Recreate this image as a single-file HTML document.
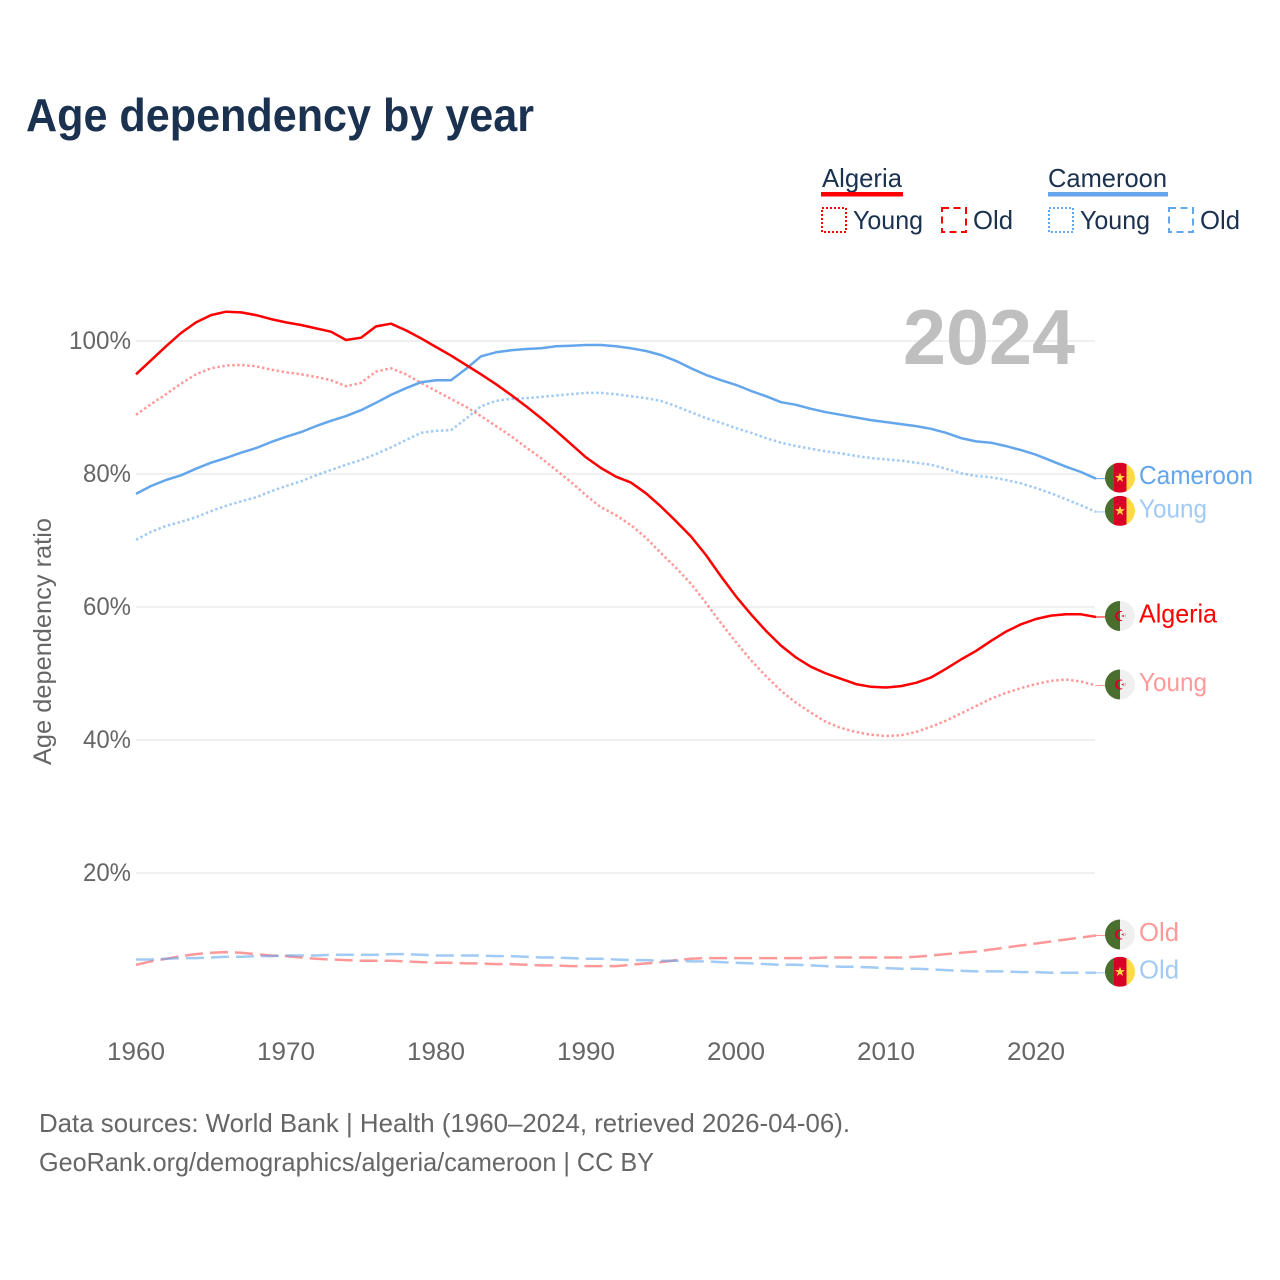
<!DOCTYPE html>
<html lang="en">
<head>
<meta charset="utf-8">
<title>Age dependency by year</title>
<style>
html,body{margin:0;padding:0;background:#fff;width:1280px;height:1280px;overflow:hidden}
svg{display:block}
text{font-family:"Liberation Sans",sans-serif}
</style>
</head>
<body>
<svg id="chart" xmlns="http://www.w3.org/2000/svg" width="1280" height="1280" viewBox="0 0 1280 1280">
  <defs>
    <clipPath id="flag-clip"><circle cx="0" cy="0" r="15"></circle></clipPath>
  </defs>
  <rect x="0" y="0" width="1280" height="1280" fill="#ffffff"></rect>
  <text x="26" y="131" font-size="46" font-weight="700" fill="#1a3150" textLength="508" lengthAdjust="spacingAndGlyphs">Age dependency by year</text>

  <g id="grid"></g>
  <text x="903" y="364" font-size="78" font-weight="700" fill="#bfbfbf" textLength="172" lengthAdjust="spacingAndGlyphs">2024</text>
  <g id="y-axis"></g>
  <g id="x-axis"></g>
  <text transform="translate(51,765) rotate(-90)" x="0" y="0" font-size="25" fill="#666666" textLength="247" lengthAdjust="spacingAndGlyphs">Age dependency ratio</text>
  <g id="series"></g>
  <g id="end-labels"></g>

  <g>
    <text x="822" y="187" font-size="26" fill="#1a3150" textLength="80" lengthAdjust="spacingAndGlyphs">Algeria</text>
    <rect x="821" y="192" width="82" height="4.5" fill="#ff0000"></rect>
    <rect x="822" y="208" width="24" height="24" fill="none" stroke="#ff0000" stroke-width="2" stroke-dasharray="2 2"></rect>
    <text x="853" y="229" font-size="26" fill="#1a3150" textLength="70" lengthAdjust="spacingAndGlyphs">Young</text>
    <rect x="942" y="208" width="24" height="24" fill="none" stroke="#ff0000" stroke-width="2" stroke-dasharray="7 4.5"></rect>
    <text x="973" y="229" font-size="26" fill="#1a3150" textLength="40" lengthAdjust="spacingAndGlyphs">Old</text>
  </g>
  <g>
    <text x="1048" y="187" font-size="26" fill="#1a3150" textLength="119" lengthAdjust="spacingAndGlyphs">Cameroon</text>
    <rect x="1048" y="192" width="120" height="4.5" fill="#63a6ec"></rect>
    <rect x="1049" y="208" width="24" height="24" fill="none" stroke="#63a6ec" stroke-width="2" stroke-dasharray="2 2"></rect>
    <text x="1080" y="229" font-size="26" fill="#1a3150" textLength="70" lengthAdjust="spacingAndGlyphs">Young</text>
    <rect x="1169" y="208" width="24" height="24" fill="none" stroke="#63a6ec" stroke-width="2" stroke-dasharray="7 4.5"></rect>
    <text x="1200" y="229" font-size="26" fill="#1a3150" textLength="40" lengthAdjust="spacingAndGlyphs">Old</text>
  </g>

  <text x="39" y="1132" font-size="26" fill="#666666" textLength="811" lengthAdjust="spacingAndGlyphs">Data sources: World Bank | Health (1960–2024, retrieved 2026-04-06).</text>
  <text x="39" y="1171" font-size="26" fill="#666666" textLength="615" lengthAdjust="spacingAndGlyphs">GeoRank.org/demographics/algeria/cameroon | CC BY</text>
</svg>
<script>
const startYear = 1960;
const xTickYears = [1960, 1970, 1980, 1990, 2000, 2010, 2020];
const xTickLabels = ["1960", "1970", "1980", "1990", "2000", "2010", "2020"];
const yTickValues = [100, 80, 60, 40, 20];
const yTickLabels = ["100%", "80%", "60%", "40%", "20%"];

const algeriaTotal = [
  95.0, 97.1, 99.2, 101.2, 102.8, 103.9, 104.4, 104.3, 103.9, 103.3,
  102.8, 102.4, 101.9, 101.4, 100.15, 100.5, 102.2, 102.6, 101.6, 100.4,
  99.1, 97.8, 96.4, 95.0, 93.5, 91.9, 90.2, 88.4, 86.5, 84.5,
  82.5, 80.9, 79.6, 78.7, 77.1, 75.1, 72.9, 70.6, 67.8, 64.6,
  61.6, 58.9, 56.4, 54.2, 52.4, 51.0, 50.0, 49.2, 48.4, 48.0,
  47.9, 48.1, 48.6, 49.4, 50.7, 52.1, 53.4, 54.9, 56.3, 57.4,
  58.2, 58.7, 58.9, 58.9, 58.5
];
const algeriaYoung = [
  88.9, 90.5, 92.0, 93.6, 95.0, 95.9, 96.3, 96.4, 96.2, 95.7,
  95.3, 95.0, 94.6, 94.1, 93.2, 93.7, 95.4, 95.9, 95.0, 93.7,
  92.5, 91.3, 90.1, 88.7, 87.2, 85.7, 84.0, 82.4, 80.6, 78.8,
  76.8, 75.0, 73.8, 72.3, 70.4, 68.1, 65.9, 63.5, 60.6, 57.6,
  54.7, 52.0, 49.6, 47.4, 45.6, 44.1, 42.7, 41.8, 41.2, 40.8,
  40.6, 40.7, 41.2, 42.0, 42.9, 44.0, 45.1, 46.2, 47.1, 47.8,
  48.4, 48.9, 49.1, 48.8, 48.2
];
const algeriaOld = [
  6.2, 6.7, 7.1, 7.5, 7.8, 8.0, 8.1, 8.0, 7.8, 7.6,
  7.5, 7.3, 7.1, 7.0, 6.9, 6.8, 6.8, 6.8, 6.7, 6.6,
  6.5, 6.5, 6.4, 6.4, 6.3, 6.3, 6.2, 6.1, 6.1, 6.0,
  6.0, 6.0, 6.0, 6.2, 6.4, 6.6, 6.9, 7.1, 7.2, 7.2,
  7.2, 7.2, 7.2, 7.2, 7.2, 7.2, 7.3, 7.3, 7.3, 7.3,
  7.3, 7.3, 7.4, 7.6, 7.8, 8.0, 8.2, 8.5, 8.8, 9.1,
  9.4, 9.7, 10.0, 10.3, 10.6
];
const cameroonTotal = [
  77.0, 78.2, 79.1, 79.8, 80.8, 81.7, 82.4, 83.2, 83.9, 84.8,
  85.6, 86.3, 87.2, 88.0, 88.7, 89.6, 90.7, 91.9, 92.9, 93.8,
  94.1, 94.1, 95.8, 97.7, 98.3, 98.6, 98.8, 98.9, 99.2, 99.3,
  99.4, 99.4, 99.2, 98.9, 98.5, 97.9, 97.0, 95.9, 94.9, 94.1,
  93.4, 92.5, 91.7, 90.8, 90.4, 89.8, 89.3, 88.9, 88.5, 88.1,
  87.8, 87.5, 87.2, 86.8, 86.2, 85.4, 84.9, 84.7, 84.2, 83.6,
  82.9, 82.0, 81.1, 80.3, 79.3
];
const cameroonYoung = [
  70.1, 71.3, 72.2, 72.8, 73.5, 74.4, 75.2, 75.9, 76.5, 77.4,
  78.2, 78.9, 79.8, 80.6, 81.4, 82.1, 83.0, 84.0, 85.1, 86.2,
  86.5, 86.6, 88.3, 90.2, 91.0, 91.3, 91.4, 91.6, 91.8, 92.0,
  92.2, 92.2, 92.0, 91.7, 91.4, 91.0, 90.2, 89.3, 88.4, 87.7,
  86.9, 86.2, 85.4, 84.7, 84.2, 83.8, 83.4, 83.1, 82.7, 82.4,
  82.2, 82.0, 81.7, 81.4, 80.8, 80.1, 79.7, 79.5, 79.1, 78.6,
  77.9, 77.1, 76.2, 75.3, 74.3
];
const cameroonOld = [
  7.0, 7.0, 7.1, 7.2, 7.2, 7.3, 7.4, 7.4, 7.5, 7.5,
  7.6, 7.6, 7.6, 7.7, 7.7, 7.7, 7.7, 7.8, 7.8, 7.7,
  7.6, 7.6, 7.6, 7.6, 7.5, 7.5, 7.4, 7.3, 7.3, 7.2,
  7.1, 7.1, 7.0, 6.9, 6.9, 6.8, 6.8, 6.7, 6.7, 6.6,
  6.5, 6.4, 6.3, 6.2, 6.2, 6.1, 6.0, 5.9, 5.9, 5.8,
  5.7, 5.6, 5.6, 5.5, 5.4, 5.3, 5.2, 5.2, 5.2, 5.1,
  5.1, 5.0, 5.0, 5.0, 5.0
];

const NS = "http://www.w3.org/2000/svg";
const ALGERIA_COLOR = "#ff0000";
const CAMEROON_COLOR = "#63a6ec";

function xScale(year) { return 136 + (year - 1960) * 15; }
function yScale(value) { return 1006 - value * 6.65; }

function make(tag, attrs, parent) {
  const el = document.createElementNS(NS, tag);
  Object.keys(attrs).forEach(function (k) { el.setAttribute(k, attrs[k]); });
  parent.appendChild(el);
  return el;
}

const gridGroup = document.getElementById("grid");
const yAxisGroup = document.getElementById("y-axis");
const xAxisGroup = document.getElementById("x-axis");
const seriesGroup = document.getElementById("series");
const labelGroup = document.getElementById("end-labels");

yTickValues.forEach(function (v, i) {
  const line = make("line", { x1: 136, x2: 1095, y1: yScale(v), y2: yScale(v), stroke: "#ececec", "stroke-width": 1.5 }, gridGroup);
  
  
  const t = make("text", { x: 131, y: yScale(v) + 8, "text-anchor": "end", "font-size": 25, fill: "#666666", textLength: i === 0 ? 62 : 48, lengthAdjust: "spacingAndGlyphs" }, yAxisGroup);
  
  
  t.textContent = yTickLabels[i];
});

xTickYears.forEach(function (year, i) {
  const t = make("text", { x: xScale(year), y: 1060, "text-anchor": "middle", "font-size": 25, fill: "#666666", textLength: 58, lengthAdjust: "spacingAndGlyphs" }, xAxisGroup);
  
  
  t.textContent = xTickLabels[i];
});

function drawLine(values, color, opacity, dash, name) {
  const pts = values.map(function (v, i) {
    return xScale(startYear + i).toFixed(1) + "," + yScale(v).toFixed(1);
  }).join(" ");
  const attrs = { points: pts, fill: "none", stroke: color, "stroke-width": 2.5, "stroke-opacity": opacity, "stroke-linejoin": "round" };
  if (dash) { attrs["stroke-dasharray"] = dash; }
  const line = make("polyline", attrs, seriesGroup);
  
  
  return line;
}

drawLine(algeriaOld, ALGERIA_COLOR, 0.4, "18 7", "line-algeria-old");
drawLine(cameroonOld, CAMEROON_COLOR, 0.6, "18 7", "line-cameroon-old");
drawLine(cameroonYoung, CAMEROON_COLOR, 0.6, "2.5 2.5", "line-cameroon-young");
drawLine(algeriaYoung, ALGERIA_COLOR, 0.4, "2.5 2.5", "line-algeria-young");
drawLine(cameroonTotal, CAMEROON_COLOR, 1, null, "line-cameroon-total");
drawLine(algeriaTotal, ALGERIA_COLOR, 1, null, "line-algeria-total");

function drawFlag(kind, cy) {
  const g = make("g", { transform: "translate(1120," + cy + ")", "clip-path": "url(#flag-clip)" }, labelGroup);
  
  
  if (kind === "cameroon") {
    make("rect", { x: -15, y: -15, width: 9, height: 30, fill: "#496e2d" }, g);
    make("rect", { x: -6, y: -15, width: 12.5, height: 30, fill: "#d80027" }, g);
    make("rect", { x: 6.5, y: -15, width: 8.5, height: 30, fill: "#ffda44" }, g);
    make("polygon", { points: "0,-5 1.3,-1.6 5,-1.6 2,0.6 3.1,4.2 0,2.1 -3.1,4.2 -2,0.6 -5,-1.6 -1.3,-1.6", fill: "#ffda44" }, g);
  } else {
    make("rect", { x: -15, y: -15, width: 15, height: 30, fill: "#496e2d" }, g);
    make("rect", { x: 0, y: -15, width: 15, height: 30, fill: "#f0f0f0" }, g);
    make("circle", { cx: 0, cy: 0, r: 5, fill: "#d80027" }, g);
    make("circle", { cx: 1.4, cy: 0, r: 4, fill: "#496e2d" }, g);
    make("rect", { x: 0, y: -4, width: 5, height: 8, fill: "#f0f0f0" }, g);
    make("path", { d: "M0,-5A5,5 0 0 1 2,-4.5L0,-3.6ZM0,5A5,5 0 0 0 2,4.5L0,3.6Z", fill: "#d80027" }, g);
    make("polygon", { points: "1.2,0 4.4,-1.4 3.4,0 4.4,1.4", fill: "#d80027" }, g);
  }
}

function drawEnd(values, kind, color, opacity, text, width, name) {
  const last = values[values.length - 1];
  const yEnd = yScale(last);
  const leader = make("line", { x1: xScale(2024), x2: 1106, y1: yEnd, y2: yEnd, stroke: color, "stroke-opacity": opacity, "stroke-width": 1 }, labelGroup);
  
  
  drawFlag(kind, yEnd - 1);
  const t = make("text", { x: 1139, y: yEnd + 5.5, "font-size": 26, fill: color, "fill-opacity": opacity, textLength: width, lengthAdjust: "spacingAndGlyphs" }, labelGroup);
  
  
  t.textContent = text;
}

drawEnd(cameroonTotal, "cameroon", CAMEROON_COLOR, 1, "Cameroon", 114, "end-cameroon-total");
drawEnd(cameroonYoung, "cameroon", CAMEROON_COLOR, 0.6, "Young", 68, "end-cameroon-young");
drawEnd(algeriaTotal, "algeria", ALGERIA_COLOR, 1, "Algeria", 78, "end-algeria-total");
drawEnd(algeriaYoung, "algeria", ALGERIA_COLOR, 0.4, "Young", 68, "end-algeria-young");
drawEnd(algeriaOld, "algeria", ALGERIA_COLOR, 0.4, "Old", 40, "end-algeria-old");
drawEnd(cameroonOld, "cameroon", CAMEROON_COLOR, 0.6, "Old", 40, "end-cameroon-old");
</script>
</body>
</html>
